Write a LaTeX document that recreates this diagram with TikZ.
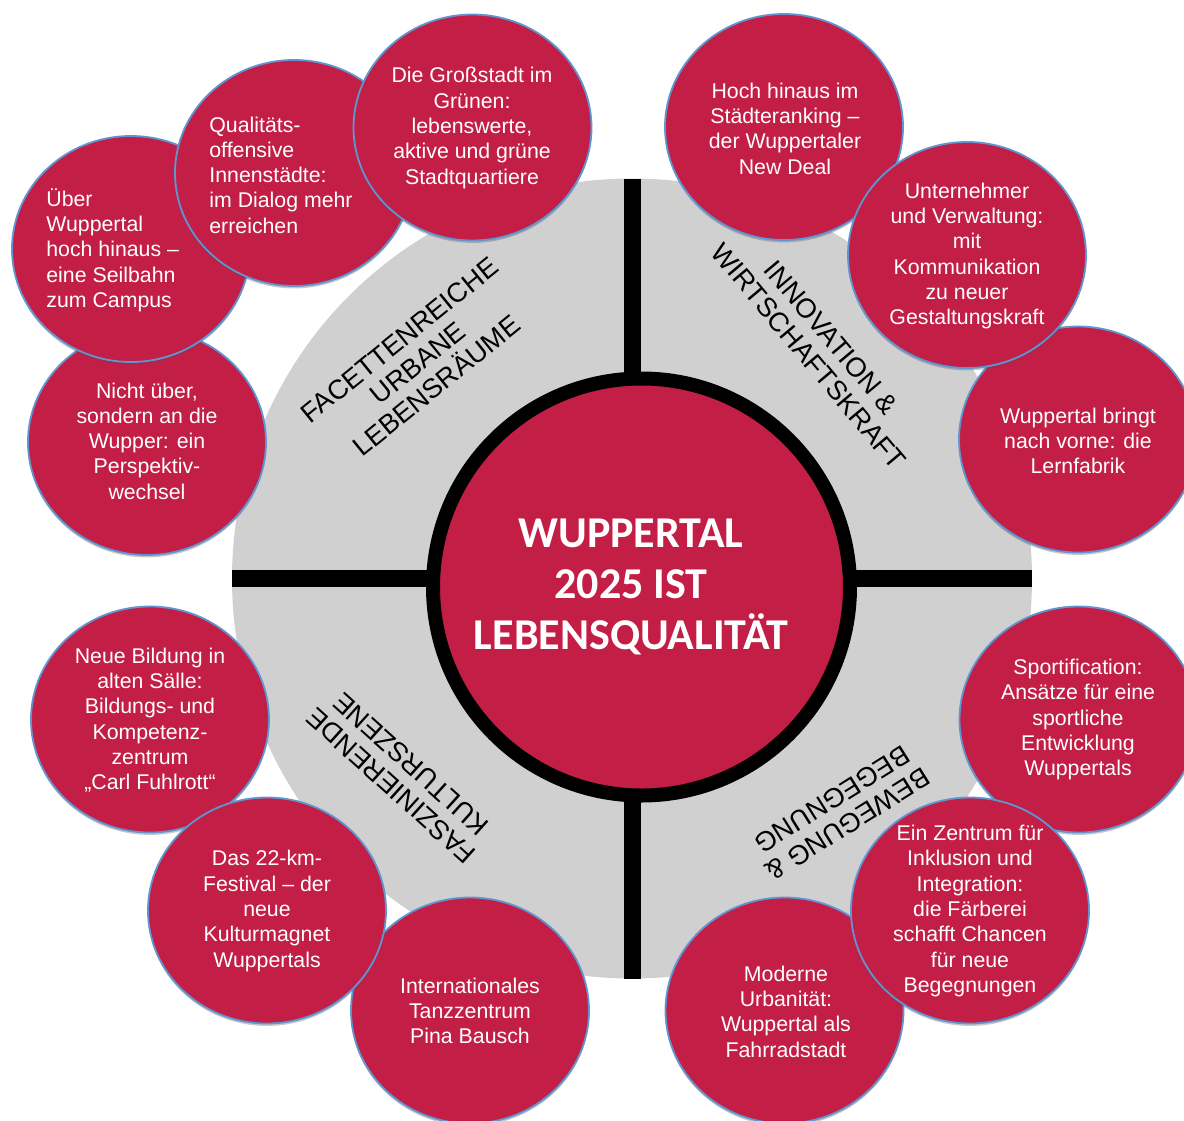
\documentclass[tikz,border=0pt]{standalone}
\usepackage{fontspec}
\setmainfont{Liberation Sans}
\newfontfamily\corefont{Carlito}
\usetikzlibrary{shapes.geometric,shadows}
\definecolor{wred}{RGB}{195,30,69}
\definecolor{wgrey}{RGB}{208,208,208}
\definecolor{wblue}{RGB}{95,150,210}
\begin{document}
\begin{tikzpicture}[x=0.5pt,y=-0.5pt,
  bubble/.style={ellipse, minimum width=119pt, minimum height=113pt, inner sep=0pt,
    fill=wred, draw=wblue, line width=0.9pt,
    drop shadow={opacity=0.3, shadow xshift=0pt, shadow yshift=-1.2pt, fill=black!70}},
  btext/.style={text=white, font=\fontsize{10.65pt}{12.65pt}\selectfont, align=center, inner sep=0pt},
  ltext/.style={btext, align=left, anchor=west},
  sector/.style={text=black, font=\fontsize{13.6pt}{14.75pt}\selectfont, align=center, inner sep=0pt},
]
\useasboundingbox (0,0) rectangle (1184,1120);
\clip (0,0) rectangle (1184,1120);
\fill[white] (0,0) rectangle (1184,1120);

% grey disc and cross
\node[circle, fill=wgrey, minimum size=400pt, inner sep=0pt, outer sep=0pt] (disc) at (632,578.5) {};
\draw[line width=8.5pt] (disc.north) -- (disc.south);
\draw[line width=8.5pt] (disc.west) -- (disc.east);

% core
\node[circle, fill=wred, draw=black, line width=7pt, minimum size=208.5pt, inner sep=0pt] (core) at (641.5,587) {};

% sector labels
\node[sector, rotate=39] (s1) at (418,363) {FACETTENREICHE\\URBANE\\LEBENSRÄUME};
\node[sector, rotate=-50] (s2) at (820,347) {INNOVATION \&\\WIRTSCHAFTSKRAFT};
\node[sector, rotate=138] (s3) at (401,775) {FASZINIERENDE\\KULTURSZENE};
\node[sector, rotate=212] (s4) at (840,812) {BEWEGUNG \&\\BEGEGNUNG};

% bubbles (stacking order as in the reference)
\node[bubble] (cNicht) at (147,442) {};
\node[bubble] (cUeber) at (131,249) {};
\node[bubble] (cQual) at (294,173) {};
\node[bubble] (cGross) at (472.5,127.5) {};
\node[bubble] (cHoch) at (784,127) {};
\node[bubble] (cLern) at (1078,439.5) {};
\node[bubble] (cUnter) at (967,255) {};
\node[bubble] (cSport) at (1078.5,719.5) {};
\node[bubble] (cMod) at (784.5,1010.5) {};
\node[bubble] (cEin) at (970,910.5) {};
\node[bubble] (cNeue) at (150,719.5) {};
\node[bubble] (cTanz) at (470,1010.5) {};
\node[bubble] (cFest) at (267,910.5) {};

% bubble texts
\node[btext] (tGross) at (472,128) {Die Großstadt im\\Grünen:\\lebenswerte,\\aktive und grüne\\Stadtquartiere};
\node[ltext] (tQual) at (209,175) {Qualitäts-\\offensive\\Innenstädte:\\im Dialog mehr\\erreichen};
\node[ltext] (tUeber) at (46,250) {Über\\Wuppertal\\hoch hinaus –\\eine Seilbahn\\zum Campus};
\node[btext] (tNicht) at (147,441) {Nicht über,\\sondern an die\\Wupper: ein\\Perspektiv-\\wechsel};
\node[btext] (tHoch) at (785,128.5) {Hoch hinaus im\\Städteranking –\\der Wuppertaler\\New Deal};
\node[btext] (tUnter) at (967,256) {Unternehmer\\und Verwaltung:\\mit\\Kommunikation\\zu neuer\\Gestaltungskraft};
\node[btext] (tLern) at (1078,441) {Wuppertal bringt\\nach vorne: die\\Lernfabrik};
\node[btext] (tSport) at (1078,719.5) {Sportification:\\Ansätze für eine\\sportliche\\Entwicklung\\Wuppertals};
\node[btext] (tEin) at (970,911) {Ein Zentrum für\\Inklusion und\\Integration:\\die Färberei\\schafft Chancen\\für neue\\Begegnungen};
\node[btext] (tMod) at (786,1011.5) {Moderne\\Urbanität:\\Wuppertal als\\Fahrradstadt};
\node[btext] (tTanz) at (470,1011) {Internationales\\Tanzzentrum\\Pina Bausch};
\node[btext] (tFest) at (267,911) {Das 22-km-\\Festival – der\\neue\\Kulturmagnet\\Wuppertals};
\node[btext] (tNeue) at (150,720) {Neue Bildung in\\alten Sälle:\\Bildungs- und\\Kompetenz-\\zentrum\\„Carl Fuhlrott“};

% core title
\node[text=white, font={\corefont\bfseries\fontsize{22pt}{25.7pt}\selectfont}, align=center, inner sep=0pt] (title) at (631,587) {WUPPERTAL\\2025 IST\\LEBENSQUALITÄT};
\end{tikzpicture}
\end{document}
